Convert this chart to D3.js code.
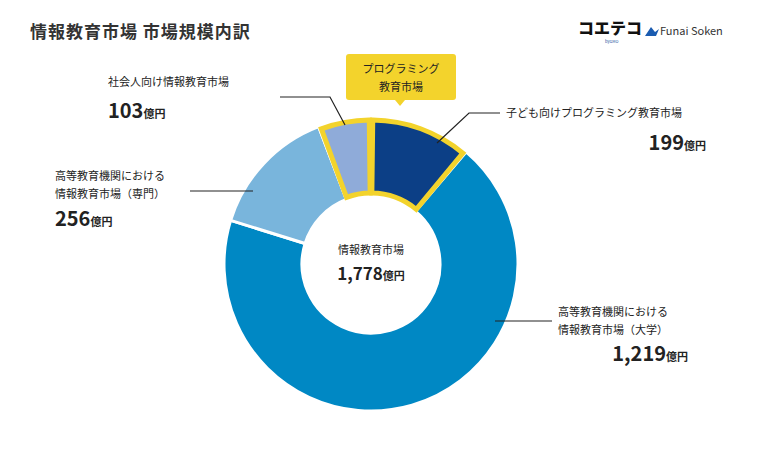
<!DOCTYPE html><html><head><meta charset="utf-8"><script src="https://cdn.jsdelivr.net/npm/d3@7"></script>
<style>body{margin:0;background:#fff}text{font-family:"Noto Sans CJK JP",sans-serif}</style></head><body>
<svg id="c" width="767" height="474"></svg>
<script>
const categories=["子ども向けプログラミング教育市場","高等教育機関における情報教育市場（大学）","高等教育機関における情報教育市場（専門）","社会人向け情報教育市場"];
const values=[199,1219,256,103];
const programming=[true,false,false,true];
const colors=["#0c3f86","#0088c4","#79b5dc","#8fabd9"];
const svg=d3.select("#c");
svg.append("text").attr("x",30).attr("y",38).attr("font-size",17).attr("font-weight",700).attr("fill","#333").attr("letter-spacing",1).text("情報教育市場 市場規模内訳");
svg.append("text").attr("x",578).attr("y",34).attr("font-size",16).attr("font-weight",900).attr("fill","#111").text("コエテコ");
svg.append("text").attr("x",605).attr("y",43).attr("font-size",4).attr("fill","#1a4ea0").text("byGMO");
svg.append("path").attr("d","M645,36 l6,-9 l4,5 l4,-3 l-3,7 z").attr("fill","#1a5bb0");
svg.append("text").attr("x",660).attr("y",35).attr("font-size",11).attr("fill","#333").attr("font-family","Roboto").text("Funai Soken");
const cx=371,cy=264;
const g=svg.append("g").attr("transform",`translate(${cx},${cy})`);
const pie=d3.pie().sort(null).value(d=>d)(values);
const arc=d3.arc().innerRadius(69).outerRadius(147);
const arcIn=d3.arc().innerRadius(71).outerRadius(144);
g.selectAll("path.s").data(pie).join("path").attr("d",arc).attr("fill",(d,i)=>colors[i]).attr("stroke","#fff").attr("stroke-width",3);
g.selectAll("path.y").data(pie.filter((d,i)=>programming[i])).join("path").attr("d",d=>arcIn({...d,startAngle:d.startAngle+0.012,endAngle:d.endAngle-0.012})).attr("fill","none").attr("stroke","#f3d32c").attr("stroke-width",5).attr("stroke-linejoin","miter");
g.append("text").attr("y",-10).attr("text-anchor","middle").attr("font-size",11).attr("fill","#222").text("情報教育市場");
const ct=g.append("text").attr("y",16).attr("text-anchor","middle").attr("fill","#222").attr("font-weight",700);
ct.append("tspan").attr("font-size",17).text("1,778");ct.append("tspan").attr("font-size",11).text("億円");
svg.append("rect").attr("x",346).attr("y",54).attr("width",110).attr("height",46).attr("rx",3).attr("fill","#f3d32c");
svg.append("path").attr("d","M395,100 l5,6 l5,-6 z").attr("fill","#f3d32c");
svg.append("text").attr("x",401).attr("y",73).attr("text-anchor","middle").attr("font-size",11).attr("fill","#222").text("プログラミング");
svg.append("text").attr("x",401).attr("y",91).attr("text-anchor","middle").attr("font-size",11).attr("fill","#222").text("教育市場");
const lines=[[[437,143],[469,113],[500,113]],[[495,321],[552,321]],[[253,191],[190,191]],[[345,125],[330,97],[280,97]]];
svg.selectAll("path.l").data(lines).join("path").attr("d",d=>d3.line()(d)).attr("fill","none").attr("stroke","#222").attr("stroke-width",1.2);
const labels=[
 {lines:[categories[0]],x:506,y:117,vx:706,vy:150,anchor:"end"},
 {lines:["高等教育機関における","情報教育市場（大学）"],x:558,y:316,vx:688,vy:361,anchor:"end"},
 {lines:["高等教育機関における","情報教育市場（専門）"],x:55,y:180,vx:55,vy:226,anchor:"start"},
 {lines:[categories[3]],x:108,y:86,vx:108,vy:118,anchor:"start"}];
labels.forEach((l,i)=>{
 l.lines.forEach((t,j)=>svg.append("text").attr("x",l.x).attr("y",l.y+j*18).attr("font-size",11).attr("fill","#222").text(t));
 const v=svg.append("text").attr("x",l.vx).attr("y",l.vy).attr("text-anchor",l.anchor).attr("font-weight",700).attr("fill","#222");
 v.append("tspan").attr("font-size",20).text(d3.format(",")(values[i]));v.append("tspan").attr("font-size",11).text("億円");
});
</script></body></html>
